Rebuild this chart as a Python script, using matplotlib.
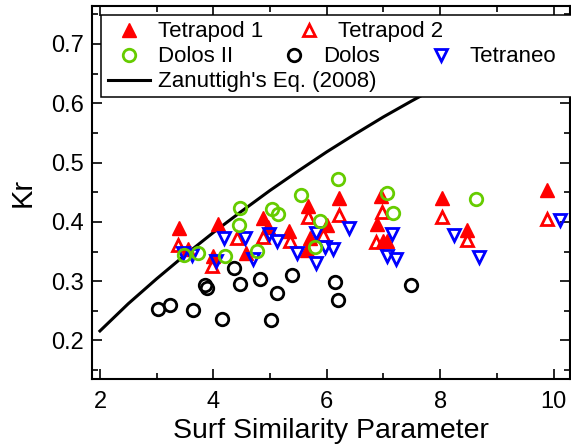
import numpy as np
import matplotlib
matplotlib.use('Agg')
from matplotlib import pyplot as plt
from matplotlib.lines import Line2D
from matplotlib.patches import Rectangle
from matplotlib.ticker import MultipleLocator

plt.rcParams['font.family'] = ['Liberation Sans', 'DejaVu Sans']

# Tetrapod 1 (filled)
t1_x = [3.40, 3.55, 4.08, 4.00, 4.58, 4.88, 4.97, 5.34, 5.67, 5.70, 5.65, 6.00,
        6.22, 6.95, 6.88, 7.00, 7.06, 8.03, 8.48, 9.88]
t1_y = [0.390, 0.355, 0.396, 0.343, 0.348, 0.407, 0.392, 0.385, 0.426, 0.372, 0.353, 0.395,
        0.440, 0.444, 0.397, 0.367, 0.367, 0.440, 0.386, 0.453]

# Tetrapod 2 (open)
t2_x = [3.38, 3.97, 4.42, 4.88, 5.35, 5.67, 5.94, 6.22, 6.97, 6.86, 8.03, 8.48, 9.88]
t2_y = [0.361, 0.326, 0.372, 0.375, 0.368, 0.409, 0.377, 0.412, 0.416, 0.366, 0.408, 0.369, 0.405]

# Dolos II
d2_x = [3.48, 3.73, 4.20, 4.47, 4.46, 4.77, 5.03, 5.14, 5.54, 5.80, 5.88, 6.20, 7.07, 7.16, 8.64]
d2_y = [0.344, 0.348, 0.343, 0.424, 0.395, 0.351, 0.421, 0.413, 0.445, 0.358, 0.401, 0.472,
        0.449, 0.415, 0.438]

# Dolos
d_x = [3.02, 3.24, 3.65, 3.86, 3.88, 4.15, 4.36, 4.47, 4.82, 5.01, 5.12, 5.38, 6.14, 6.20, 7.49]
d_y = [0.253, 0.260, 0.251, 0.294, 0.289, 0.237, 0.323, 0.296, 0.304, 0.235, 0.280, 0.310,
       0.298, 0.269, 0.293]

# Tetraneo
tn_x = [3.46, 3.62, 4.05, 4.18, 4.55, 4.70, 4.99, 5.12, 5.47, 5.81, 5.81, 5.97, 6.11, 6.40,
        7.06, 7.22, 7.15, 8.24, 8.69, 10.11]
tn_y = [0.348, 0.344, 0.334, 0.372, 0.373, 0.337, 0.380, 0.368, 0.348, 0.330, 0.381, 0.358,
        0.354, 0.390, 0.342, 0.337, 0.380, 0.377, 0.340, 0.403]

# Zanuttigh's Eq. (2008)
eq_x = [2.0, 2.5, 3.0, 3.5, 4.0, 4.5, 5.0, 5.5, 6.0, 6.5, 7.0, 7.5, 8.0]
eq_y = [0.216, 0.262, 0.304, 0.344, 0.382, 0.418, 0.453, 0.486, 0.518, 0.548, 0.577, 0.604, 0.630]

W, H = 571, 445
fig = plt.figure(figsize=(W / 100, H / 100), dpi=100)
ax = fig.add_axes([92 / W, 1 - 379 / H, (570 - 92) / W, (379 - 6) / H])

red = '#ff0000'
green = '#66cc00'
blue = '#0000ff'

ax.plot(eq_x, eq_y, color='black', lw=2.2, zorder=2)
ax.plot(t1_x, t1_y, ls='none', marker='^', ms=10, mfc=red, mec=red, mew=1, zorder=3)
ax.plot(t2_x, t2_y, ls='none', marker='^', ms=9, mfc='none', mec=red, mew=2, zorder=3)
ax.plot(d_x, d_y, ls='none', marker='o', ms=9, mfc='none', mec='black', mew=2, zorder=3)
ax.plot(tn_x, tn_y, ls='none', marker='v', ms=9, mfc='none', mec=blue, mew=2, zorder=4)
ax.plot(d2_x, d2_y, ls='none', marker='o', ms=9, mfc='none', mec=green, mew=2, zorder=5)

ax.set_xlim(1.86, 10.29)
ax.set_ylim(0.135, 0.764)
ax.xaxis.set_major_locator(MultipleLocator(2))
ax.xaxis.set_minor_locator(MultipleLocator(1))
ax.yaxis.set_major_locator(MultipleLocator(0.1))
ax.yaxis.set_minor_locator(MultipleLocator(0.05))
ax.tick_params(which='both', direction='in', top=True, right=True, width=1.2, labelsize=17)
ax.tick_params(which='major', length=7)
ax.tick_params(which='minor', length=4)
ax.tick_params(axis='x', pad=9)
ax.tick_params(axis='y', pad=6)
for s in ax.spines.values():
    s.set_linewidth(1.5)

ax.set_xlabel('Surf Similarity Parameter', fontsize=20.5, labelpad=3)
ax.set_ylabel('Kr', fontsize=21, labelpad=10)

# legend frame
fig.patches.append(Rectangle((101 / W, 1 - 97 / H), (580 - 101) / W, (97 - 15) / H,
                             transform=fig.transFigure, facecolor='white',
                             edgecolor='black', lw=1.1, zorder=1))

h_t1 = Line2D([], [], ls='none', marker='^', ms=10, mfc=red, mec=red)
h_t2 = Line2D([], [], ls='none', marker='^', ms=9, mfc='none', mec=red, mew=2)
h_d2 = Line2D([], [], ls='none', marker='o', ms=9, mfc='none', mec=green, mew=2)
h_d = Line2D([], [], ls='none', marker='o', ms=9, mfc='none', mec='black', mew=2)
h_tn = Line2D([], [], ls='none', marker='v', ms=9, mfc='none', mec=blue, mew=2)
h_eq = Line2D([], [], color='black', lw=2.2)

rows = [([h_t1, h_t2], ['Tetrapod 1', 'Tetrapod 2'], 32, 1.13),
        ([h_d2, h_d, h_tn], ['Dolos II', 'Dolos', 'Tetraneo'], 57, 1.8),
        ([h_eq], ["Zanuttigh's Eq. (2008)"], 82, 1.0)]
for hs, labs, ypx, cs in rows:
    lg = fig.legend(hs, labs, loc='center left', bbox_to_anchor=(108 / W, 1 - ypx / H),
                    ncol=len(hs), frameon=False, fontsize=16, borderpad=0,
                    borderaxespad=0, handlelength=1.9, handletextpad=0.35,
                    columnspacing=cs)
    lg.set_zorder(6)

fig.savefig('out.png', dpi=100)
